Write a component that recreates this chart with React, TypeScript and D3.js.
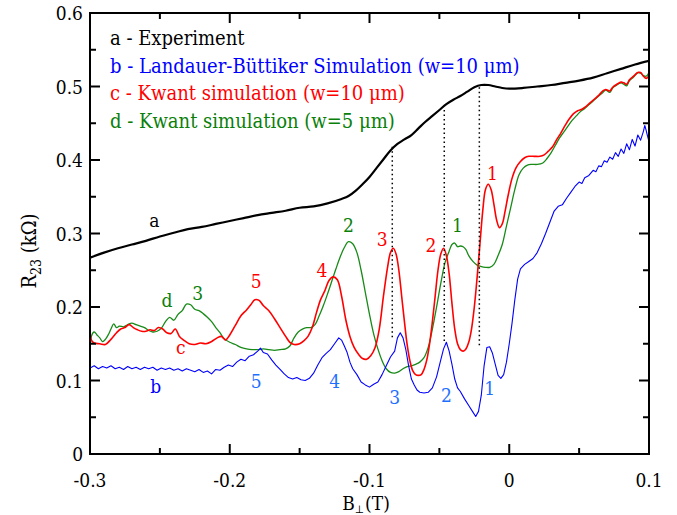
import React from 'react';
import { scaleLinear, line, curveCatmullRom, curveLinear } from 'd3';

// B (T), R23 (kOhm)
const expB = [-0.3, -0.29, -0.28, -0.27, -0.26, -0.25, -0.24, -0.23, -0.22, -0.21, -0.2, -0.19, -0.18, -0.17, -0.16, -0.15, -0.14, -0.13, -0.12, -0.115, -0.11, -0.105, -0.1, -0.095, -0.09, -0.085, -0.08, -0.075, -0.07, -0.065, -0.06, -0.055, -0.05, -0.045, -0.04, -0.035, -0.03, -0.025, -0.02, -0.015, -0.01, -0.005, 0, 0.01, 0.02, 0.03, 0.04, 0.05, 0.06, 0.07, 0.08, 0.09, 0.1];
const expR = [0.267, 0.274, 0.28, 0.285, 0.29, 0.296, 0.301, 0.306, 0.309, 0.313, 0.317, 0.321, 0.325, 0.328, 0.331, 0.335, 0.337, 0.341, 0.347, 0.351, 0.358, 0.367, 0.377, 0.389, 0.401, 0.413, 0.422, 0.428, 0.434, 0.443, 0.452, 0.46, 0.468, 0.476, 0.482, 0.487, 0.493, 0.499, 0.502, 0.502, 0.5, 0.498, 0.497, 0.498, 0.5, 0.502, 0.505, 0.508, 0.512, 0.518, 0.524, 0.53, 0.535];

const lbB = [-0.3, -0.297, -0.294, -0.291, -0.288, -0.285, -0.282, -0.279, -0.276, -0.273, -0.27, -0.267, -0.264, -0.261, -0.258, -0.255, -0.252, -0.249, -0.246, -0.243, -0.24, -0.237, -0.234, -0.231, -0.228, -0.225, -0.222, -0.219, -0.216, -0.213, -0.21, -0.207, -0.204, -0.201, -0.198, -0.195, -0.192, -0.189, -0.186, -0.183, -0.18, -0.178, -0.176, -0.173, -0.17, -0.167, -0.164, -0.161, -0.158, -0.155, -0.152, -0.149, -0.146, -0.143, -0.14, -0.137, -0.134, -0.131, -0.128, -0.125, -0.122, -0.12, -0.118, -0.116, -0.114, -0.112, -0.109, -0.106, -0.103, -0.1, -0.097, -0.094, -0.091, -0.088, -0.085, -0.082, -0.08, -0.078, -0.076, -0.074, -0.072, -0.07, -0.068, -0.066, -0.064, -0.061, -0.058, -0.055, -0.052, -0.049, -0.047, -0.045, -0.043, -0.041, -0.039, -0.037, -0.035, -0.032, -0.029, -0.026, -0.024, -0.022, -0.02, -0.018, -0.016, -0.014, -0.012, -0.01, -0.008, -0.006, -0.004, -0.002, 0, 0.002, 0.004, 0.006, 0.008, 0.011, 0.014, 0.017, 0.02, 0.023, 0.026, 0.029, 0.032, 0.035, 0.038, 0.041, 0.044, 0.047, 0.05, 0.052, 0.054, 0.057, 0.06, 0.062, 0.064, 0.066, 0.068, 0.07, 0.072, 0.074, 0.076, 0.078, 0.08, 0.082, 0.084, 0.086, 0.088, 0.09, 0.092, 0.094, 0.096, 0.097, 0.098, 0.099, 0.1];
const lbR = [0.117, 0.12, 0.116, 0.119, 0.117, 0.12, 0.116, 0.118, 0.115, 0.119, 0.116, 0.118, 0.115, 0.118, 0.116, 0.118, 0.114, 0.117, 0.115, 0.117, 0.114, 0.116, 0.113, 0.116, 0.114, 0.112, 0.115, 0.111, 0.113, 0.109, 0.115, 0.114, 0.118, 0.121, 0.119, 0.125, 0.129, 0.127, 0.133, 0.135, 0.14, 0.144, 0.138, 0.136, 0.128, 0.121, 0.115, 0.109, 0.104, 0.102, 0.104, 0.101, 0.1, 0.103, 0.11, 0.121, 0.131, 0.137, 0.142, 0.15, 0.158, 0.155, 0.147, 0.138, 0.125, 0.116, 0.108, 0.098, 0.094, 0.091, 0.095, 0.098, 0.108, 0.12, 0.132, 0.14, 0.158, 0.165, 0.158, 0.142, 0.12, 0.102, 0.094, 0.087, 0.084, 0.083, 0.084, 0.09, 0.105, 0.128, 0.143, 0.152, 0.14, 0.122, 0.102, 0.09, 0.085, 0.075, 0.066, 0.057, 0.051, 0.058, 0.08, 0.12, 0.145, 0.146, 0.137, 0.122, 0.107, 0.103, 0.108, 0.125, 0.15, 0.178, 0.21, 0.238, 0.252, 0.258, 0.262, 0.266, 0.274, 0.286, 0.3, 0.315, 0.33, 0.337, 0.339, 0.348, 0.356, 0.364, 0.37, 0.368, 0.376, 0.379, 0.386, 0.384, 0.392, 0.391, 0.399, 0.397, 0.404, 0.401, 0.41, 0.405, 0.415, 0.409, 0.422, 0.414, 0.428, 0.419, 0.434, 0.427, 0.439, 0.447, 0.44, 0.432, 0.425];

const kw10B = [-0.3, -0.299, -0.297, -0.293, -0.289, -0.285, -0.281, -0.278, -0.275, -0.272, -0.269, -0.266, -0.263, -0.26, -0.257, -0.254, -0.251, -0.248, -0.245, -0.242, -0.239, -0.236, -0.233, -0.229, -0.225, -0.221, -0.217, -0.213, -0.209, -0.206, -0.203, -0.2, -0.196, -0.192, -0.188, -0.185, -0.182, -0.179, -0.176, -0.172, -0.168, -0.164, -0.16, -0.157, -0.154, -0.15, -0.147, -0.144, -0.141, -0.138, -0.135, -0.132, -0.129, -0.126, -0.123, -0.12, -0.117, -0.114, -0.111, -0.108, -0.105, -0.102, -0.099, -0.096, -0.093, -0.09, -0.087, -0.085, -0.083, -0.081, -0.079, -0.077, -0.075, -0.073, -0.071, -0.069, -0.067, -0.065, -0.063, -0.061, -0.059, -0.057, -0.055, -0.053, -0.051, -0.049, -0.047, -0.045, -0.043, -0.041, -0.039, -0.037, -0.035, -0.033, -0.031, -0.029, -0.027, -0.025, -0.023, -0.021, -0.019, -0.017, -0.015, -0.013, -0.011, -0.009, -0.007, -0.005, -0.003, -0.001, 0.002, 0.005, 0.008, 0.011, 0.014, 0.018, 0.022, 0.025, 0.028, 0.031, 0.034, 0.037, 0.04, 0.043, 0.046, 0.049, 0.052, 0.055, 0.058, 0.061, 0.064, 0.067, 0.069, 0.072, 0.074, 0.077, 0.08, 0.082, 0.084, 0.086, 0.089, 0.092, 0.094, 0.096, 0.098, 0.1];
const kw10R = [0.176, 0.155, 0.151, 0.15, 0.149, 0.156, 0.165, 0.17, 0.172, 0.176, 0.172, 0.169, 0.167, 0.167, 0.169, 0.168, 0.172, 0.17, 0.165, 0.164, 0.17, 0.16, 0.155, 0.15, 0.149, 0.151, 0.15, 0.153, 0.158, 0.16, 0.155, 0.162, 0.175, 0.188, 0.196, 0.203, 0.21, 0.209, 0.202, 0.195, 0.184, 0.172, 0.16, 0.152, 0.149, 0.15, 0.154, 0.16, 0.172, 0.192, 0.21, 0.222, 0.236, 0.241, 0.237, 0.215, 0.183, 0.16, 0.145, 0.136, 0.13, 0.129, 0.134, 0.145, 0.17, 0.215, 0.255, 0.274, 0.28, 0.272, 0.25, 0.215, 0.18, 0.148, 0.126, 0.113, 0.108, 0.107, 0.108, 0.115, 0.128, 0.15, 0.18, 0.215, 0.25, 0.272, 0.28, 0.27, 0.245, 0.205, 0.17, 0.15, 0.142, 0.14, 0.143, 0.152, 0.17, 0.2, 0.24, 0.285, 0.33, 0.36, 0.367, 0.36, 0.34, 0.318, 0.308, 0.313, 0.33, 0.35, 0.375, 0.39, 0.398, 0.403, 0.405, 0.405, 0.405, 0.407, 0.412, 0.418, 0.428, 0.437, 0.447, 0.456, 0.463, 0.467, 0.469, 0.473, 0.478, 0.483, 0.488, 0.494, 0.496, 0.494, 0.499, 0.503, 0.506, 0.505, 0.503, 0.509, 0.514, 0.519, 0.519, 0.514, 0.511, 0.515];

const kw5B = [-0.3, -0.299, -0.297, -0.295, -0.293, -0.291, -0.289, -0.287, -0.285, -0.283, -0.281, -0.279, -0.276, -0.273, -0.27, -0.267, -0.264, -0.261, -0.258, -0.255, -0.252, -0.249, -0.246, -0.243, -0.24, -0.237, -0.234, -0.231, -0.228, -0.225, -0.222, -0.219, -0.216, -0.213, -0.21, -0.207, -0.204, -0.2, -0.196, -0.192, -0.188, -0.184, -0.18, -0.176, -0.172, -0.168, -0.164, -0.16, -0.157, -0.154, -0.151, -0.148, -0.145, -0.142, -0.139, -0.136, -0.133, -0.13, -0.127, -0.124, -0.121, -0.118, -0.115, -0.112, -0.109, -0.106, -0.103, -0.1, -0.097, -0.094, -0.091, -0.088, -0.085, -0.082, -0.079, -0.076, -0.073, -0.07, -0.067, -0.064, -0.061, -0.058, -0.055, -0.052, -0.049, -0.046, -0.043, -0.041, -0.039, -0.037, -0.035, -0.033, -0.031, -0.029, -0.026, -0.023, -0.02, -0.017, -0.014, -0.011, -0.008, -0.005, -0.002, 0.001, 0.004, 0.007, 0.01, 0.013, 0.016, 0.02, 0.024, 0.027, 0.03, 0.033, 0.036, 0.039, 0.042, 0.045, 0.048, 0.051, 0.054, 0.058, 0.061, 0.064, 0.067, 0.069, 0.072, 0.074, 0.077, 0.08, 0.082, 0.084, 0.086, 0.089, 0.092, 0.094, 0.096, 0.098, 0.1];
const kw5R = [0.128, 0.16, 0.166, 0.162, 0.158, 0.153, 0.156, 0.162, 0.17, 0.177, 0.172, 0.174, 0.173, 0.176, 0.178, 0.176, 0.174, 0.172, 0.168, 0.166, 0.167, 0.171, 0.18, 0.186, 0.182, 0.19, 0.195, 0.204, 0.203, 0.197, 0.195, 0.191, 0.186, 0.18, 0.172, 0.165, 0.157, 0.152, 0.149, 0.145, 0.143, 0.142, 0.142, 0.143, 0.142, 0.141, 0.142, 0.143, 0.147, 0.158, 0.166, 0.17, 0.172, 0.172, 0.176, 0.188, 0.202, 0.218, 0.235, 0.252, 0.268, 0.281, 0.289, 0.286, 0.274, 0.25, 0.22, 0.19, 0.163, 0.143, 0.127, 0.116, 0.111, 0.11, 0.112, 0.116, 0.119, 0.12, 0.122, 0.125, 0.131, 0.145, 0.17, 0.2, 0.232, 0.26, 0.276, 0.285, 0.287, 0.282, 0.283, 0.282, 0.278, 0.27, 0.262, 0.257, 0.255, 0.254, 0.254, 0.258, 0.27, 0.285, 0.31, 0.335, 0.36, 0.38, 0.389, 0.393, 0.394, 0.394, 0.396, 0.402, 0.41, 0.42, 0.43, 0.438, 0.446, 0.454, 0.46, 0.466, 0.47, 0.477, 0.482, 0.487, 0.492, 0.495, 0.492, 0.498, 0.502, 0.505, 0.503, 0.501, 0.508, 0.513, 0.519, 0.518, 0.515, 0.514, 0.519];

// dotted guides: B, R at top, R at bottom
const guideB = [-0.0837, -0.0465, -0.0214];
const guideTop = [0.418, 0.468, 0.499];
const guideBottom = [0.155, 0.151, 0.144];

const xMajor = [-0.3, -0.2, -0.1, 0, 0.1];
const xMinor = [-0.25, -0.15, -0.05, 0.05];
const xTickText = ['-0.3', '-0.2', '-0.1', '0', '0.1'];
const yMajor = [0, 0.1, 0.2, 0.3, 0.4, 0.5, 0.6];
const yMinor = [0.05, 0.15, 0.25, 0.35, 0.45, 0.55];
const yTickText = ['0', '0.1', '0.2', '0.3', '0.4', '0.5', '0.6'];

const legendText = [
  'a - Experiment',
  'b - Landauer-Büttiker Simulation (w=10 μm)',
  'c - Kwant simulation (w=10 μm)',
  'd - Kwant simulation (w=5 μm)',
];
const legendColor = ['#000000', '#0000ff', '#ff0000', '#0a800a'];

// curve labels: text, B, R, colour
const labelText = ['a', 'b', '5', '4', '3', '2', '1', 'c', '5', '4', '3', '2', '1', 'd', '3', '2', '1'];
const labelB = [-0.254, -0.253, -0.181, -0.125, -0.082, -0.045, -0.014, -0.235, -0.181, -0.134, -0.091, -0.056, -0.012, -0.245, -0.223, -0.115, -0.037];
const labelR = [0.319, 0.093, 0.099, 0.099, 0.078, 0.080, 0.090, 0.146, 0.235, 0.251, 0.292, 0.285, 0.382, 0.210, 0.219, 0.311, 0.311];
const labelColor = ['#000000', '#0000ff', '#1f6fff', '#1f6fff', '#1f6fff', '#1f6fff', '#1f6fff', '#ff0000', '#ff0000', '#ff0000', '#ff0000', '#ff0000', '#ff0000', '#0a800a', '#0a800a', '#0a800a', '#0a800a'];

const W = 677;
const H = 515;
const left = 90, right = 649, top = 13, bottom = 454;
const font = "'DejaVu Serif Condensed', 'DejaVu Serif', serif";

const App = () => {
  const x = scaleLinear().domain([-0.3, 0.1]).range([left, right]);
  const y = scaleLinear().domain([0, 0.6]).range([bottom, top]);

  const mk = (bs: number[], rs: number[], c) =>
    line<number>().x(d => x(d)).y((d, i) => y(rs[i])).curve(c)(bs);

  const curves = [
    { d: mk(kw5B, kw5R, curveCatmullRom.alpha(0.5)), color: '#188a18', w: 1.3 },
    { d: mk(kw10B, kw10R, curveCatmullRom.alpha(0.5)), color: '#ff0000', w: 1.6 },
    { d: mk(lbB, lbR, curveLinear), color: '#0000ff', w: 1.1 },
    { d: mk(expB, expR, curveCatmullRom.alpha(0.5)), color: '#000000', w: 2.2 },
  ];

  return (
    <svg width={W} height={H} style={{ position: 'absolute', left: 0, top: 0, background: '#fff' }}
      fontFamily={font}>
      <g clipPath="url(#clip)">
        <clipPath id="clip"><rect x={left} y={top} width={right - left} height={bottom - top} /></clipPath>
        {curves.map((c, i) => (
          <path key={i} d={c.d || ''} fill="none" stroke={c.color} strokeWidth={c.w} strokeLinejoin="round" />
        ))}
      </g>
      {guideB.map((b, i) => (
        <line key={i} x1={x(b)} x2={x(b)} y1={y(guideTop[i])} y2={y(guideBottom[i])}
          stroke="#000" strokeWidth={1.5} strokeDasharray="1.5,3" />
      ))}
      {/* frame and ticks */}
      <rect x={left} y={top} width={right - left} height={bottom - top} fill="none" stroke="#000" strokeWidth={2} />
      {xMajor.map((v, i) => (
        <g key={'xm' + i}>
          <line x1={x(v)} x2={x(v)} y1={bottom} y2={bottom - 10} stroke="#000" strokeWidth={2} />
          <line x1={x(v)} x2={x(v)} y1={top} y2={top + 10} stroke="#000" strokeWidth={2} />
          <text x={x(v)} y={487} textAnchor="middle" fontSize={19}>{xTickText[i]}</text>
        </g>
      ))}
      {xMinor.map((v, i) => (
        <g key={'xn' + i}>
          <line x1={x(v)} x2={x(v)} y1={bottom} y2={bottom - 6} stroke="#000" strokeWidth={2} />
          <line x1={x(v)} x2={x(v)} y1={top} y2={top + 6} stroke="#000" strokeWidth={2} />
        </g>
      ))}
      {yMajor.map((v, i) => (
        <g key={'ym' + i}>
          <line x1={left} x2={left + 10} y1={y(v)} y2={y(v)} stroke="#000" strokeWidth={2} />
          <line x1={right} x2={right - 10} y1={y(v)} y2={y(v)} stroke="#000" strokeWidth={2} />
          <text x={83} y={y(v) + 7} textAnchor="end" fontSize={19}>{yTickText[i]}</text>
        </g>
      ))}
      {yMinor.map((v, i) => (
        <g key={'yn' + i}>
          <line x1={left} x2={left + 6} y1={y(v)} y2={y(v)} stroke="#000" strokeWidth={2} />
          <line x1={right} x2={right - 6} y1={y(v)} y2={y(v)} stroke="#000" strokeWidth={2} />
        </g>
      ))}
      {/* axis titles */}
      <text x={366} y={510} textAnchor="middle" fontSize={19}>
        B<tspan fontSize={11} dy={3}>⊥</tspan><tspan dx={1} dy={-3}>(T)</tspan>
      </text>
      <text transform="translate(36,251) rotate(-90)" textAnchor="middle" fontSize={20}>
        R<tspan fontSize={14} dy={5}>23</tspan><tspan dy={-5}> (kΩ)</tspan>
      </text>
      {/* legend */}
      {legendText.map((t, i) => (
        <text key={'lg' + i} x={110} y={45 + i * 27.7} fontSize={20} fill={legendColor[i]}>{t}</text>
      ))}
      {/* curve labels */}
      {labelText.map((t, i) => (
        <text key={'lb' + i} x={x(labelB[i])} y={y(labelR[i]) + 7} textAnchor="middle" fontSize={19}
          fill={labelColor[i]}>{t}</text>
      ))}
    </svg>
  );
};

export default App;
